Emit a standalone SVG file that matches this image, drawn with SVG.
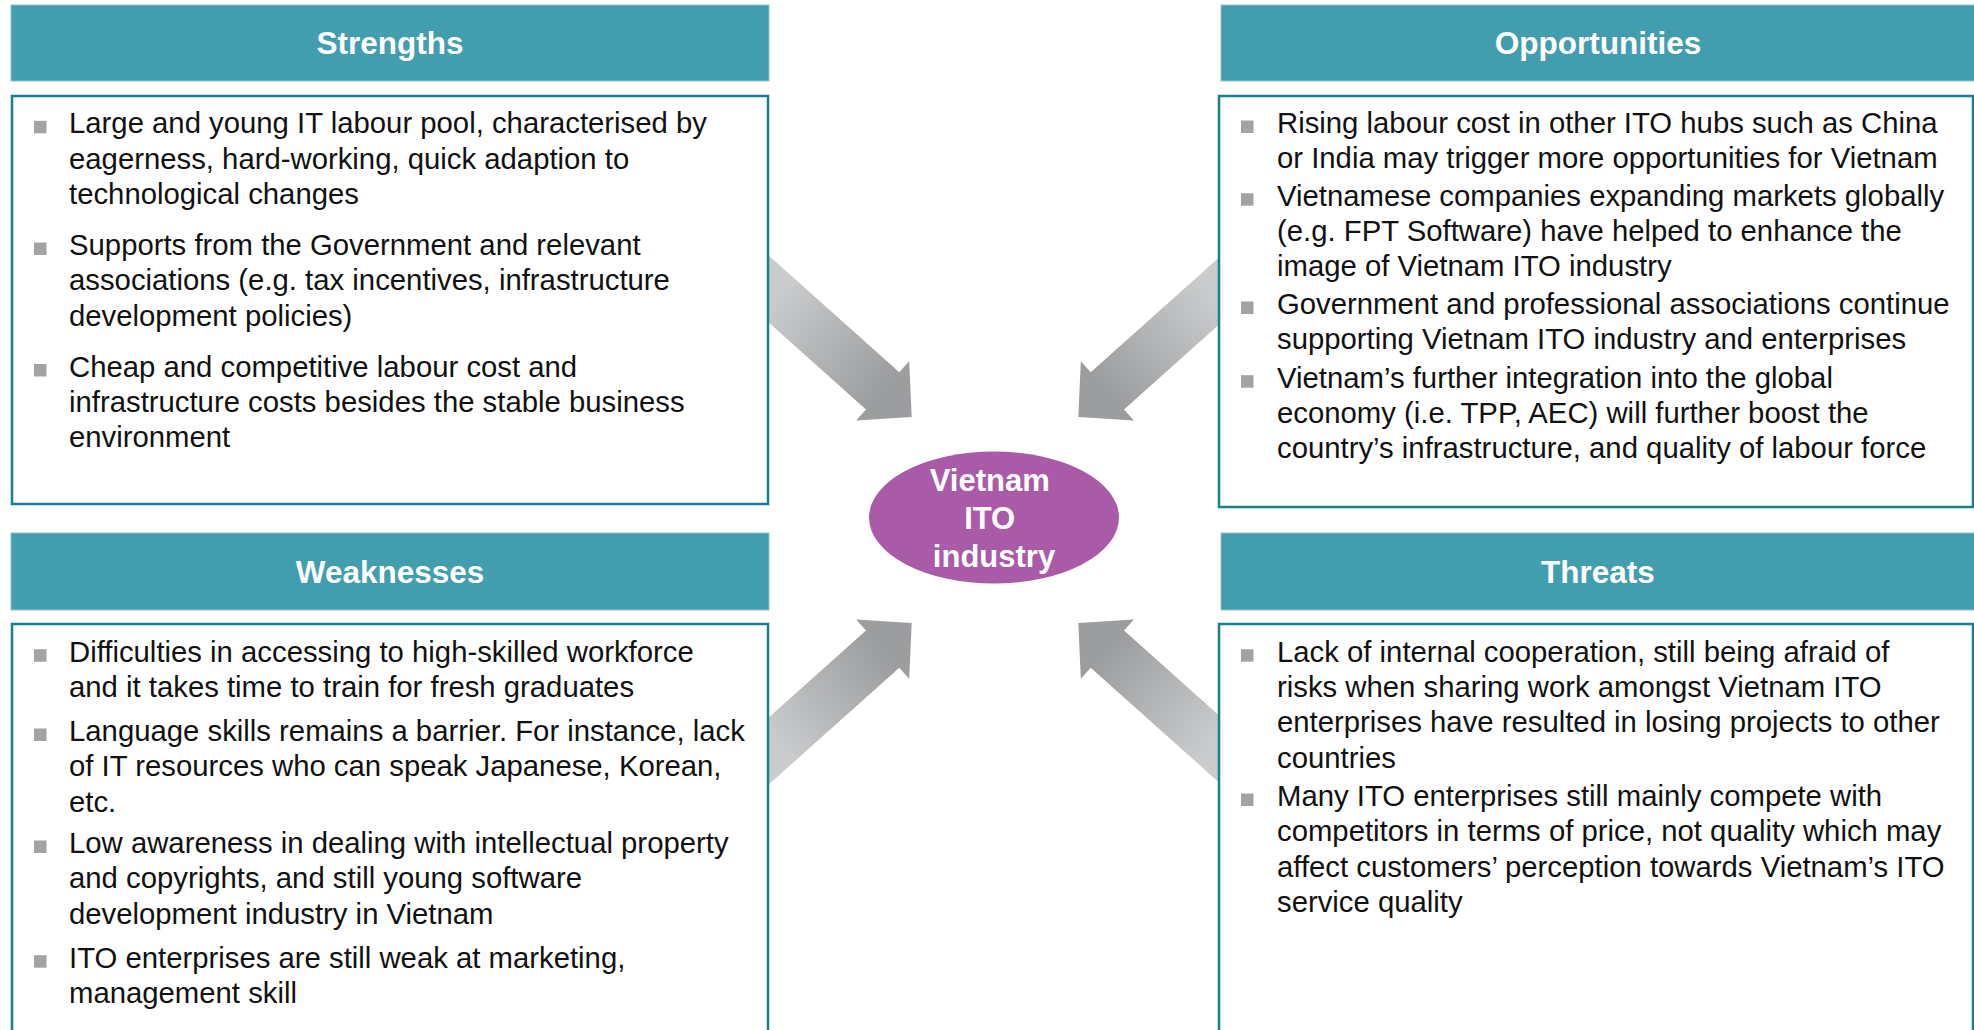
<svg xmlns="http://www.w3.org/2000/svg" width="1974" height="1030" viewBox="0 0 1974 1030">
  <style>
    .hdr { fill: #429EAE; stroke: #8EC6CF; stroke-width: 1; }
    .hdr-t { font-family: "Liberation Sans", Arial, sans-serif; font-weight: bold; font-size: 31.5px; fill: #FFFFFF; text-anchor: middle; }
    .body { fill: #FFFFFF; stroke: #15808F; stroke-width: 2.5; }
    .txt { font-family: "Liberation Sans", Arial, sans-serif; font-size: 29.3px; fill: #111111; }
    .bullet { fill: #A3A3A3; }
    .core { fill: #A95BA8; }
    .core-t { font-family: "Liberation Sans", Arial, sans-serif; font-weight: bold; font-size: 31px; fill: #FFFFFF; text-anchor: middle; }
    .arrow { fill: url(#shade); }
  </style>
  <defs>
    <!-- shading along the arrow axis (local coordinates, tip at origin) -->
    <linearGradient id="shade" gradientUnits="userSpaceOnUse" x1="-180" y1="0" x2="-40" y2="0">
      <stop offset="0" stop-color="#CACBCC"/>
      <stop offset="1" stop-color="#9C9D9F"/>
    </linearGradient>
    <polygon id="arrowShape" points="0,0 -39,-39.8 -39,-25 -260,-25 -260,25 -39,25 -39,39.8"/>
  </defs>

  <rect width="1974" height="1030" fill="#FFFFFF"/>

  <!-- block arrows pointing at the centre (drawn first, boxes cover their tails) -->
  <g id="connectors">
    <use href="#arrowShape" class="arrow" transform="translate(911.7,416.9) rotate(41.8)"/>
    <use href="#arrowShape" class="arrow" transform="translate(1078.3,416.9) rotate(138.2)"/>
    <use href="#arrowShape" class="arrow" transform="translate(911.7,623.1) rotate(-41.8)"/>
    <use href="#arrowShape" class="arrow" transform="translate(1078.3,623.1) rotate(-138.2)"/>
  </g>

  <!-- Strengths -->
  <g id="strengths">
    <rect class="hdr" x="11" y="5" width="758" height="76"/>
    <text class="hdr-t" x="390" y="54.3">Strengths</text>
    <rect class="body" x="12" y="96" width="756" height="408"/>
    <rect class="bullet" x="34" y="120.8" width="12.5" height="12.5"/>
    <rect class="bullet" x="34" y="242.5" width="12.5" height="12.5"/>
    <rect class="bullet" x="34" y="364" width="12.5" height="12.5"/>
    <text class="txt">
      <tspan x="69" y="133.3">Large and young IT labour pool, characterised by</tspan>
      <tspan x="69" y="168.6">eagerness, hard-working, quick adaption to</tspan>
      <tspan x="69" y="204">technological changes</tspan>
      <tspan x="69" y="255">Supports from the Government and relevant</tspan>
      <tspan x="69" y="290.3">associations (e.g. tax incentives, infrastructure</tspan>
      <tspan x="69" y="325.6">development policies)</tspan>
      <tspan x="69" y="376.5">Cheap and competitive labour cost and</tspan>
      <tspan x="69" y="411.8">infrastructure costs besides the stable business</tspan>
      <tspan x="69" y="447">environment</tspan>
    </text>
  </g>

  <!-- Opportunities -->
  <g id="opportunities">
    <rect class="hdr" x="1221" y="5" width="760" height="76"/>
    <text class="hdr-t" x="1598" y="54.3">Opportunities</text>
    <rect class="body" x="1219" y="96" width="754" height="411"/>
    <rect class="bullet" x="1241" y="120.5" width="12.5" height="12.5"/>
    <rect class="bullet" x="1241" y="193.2" width="12.5" height="12.5"/>
    <rect class="bullet" x="1241" y="301.5" width="12.5" height="12.5"/>
    <rect class="bullet" x="1241" y="375.2" width="12.5" height="12.5"/>
    <text class="txt">
      <tspan x="1277" y="133">Rising labour cost in other ITO hubs such as China</tspan>
      <tspan x="1277" y="168.3">or India may trigger more opportunities for Vietnam</tspan>
      <tspan x="1277" y="205.7">Vietnamese companies expanding markets globally</tspan>
      <tspan x="1277" y="241">(e.g. FPT Software) have helped to enhance the</tspan>
      <tspan x="1277" y="276.3">image of Vietnam ITO industry</tspan>
      <tspan x="1277" y="314">Government and professional associations continue</tspan>
      <tspan x="1277" y="349.3">supporting Vietnam ITO industry and enterprises</tspan>
      <tspan x="1277" y="387.7">Vietnam’s further integration into the global</tspan>
      <tspan x="1277" y="423">economy (i.e. TPP, AEC) will further boost the</tspan>
      <tspan x="1277" y="458.3">country’s infrastructure, and quality of labour force</tspan>
    </text>
  </g>

  <!-- Weaknesses -->
  <g id="weaknesses">
    <rect class="hdr" x="11" y="533" width="758" height="77"/>
    <text class="hdr-t" x="390" y="583">Weaknesses</text>
    <rect class="body" x="12" y="624" width="756" height="450"/>
    <rect class="bullet" x="34" y="649.2" width="12.5" height="12.5"/>
    <rect class="bullet" x="34" y="728.5" width="12.5" height="12.5"/>
    <rect class="bullet" x="34" y="840.5" width="12.5" height="12.5"/>
    <rect class="bullet" x="34" y="955.2" width="12.5" height="12.5"/>
    <text class="txt">
      <tspan x="69" y="661.7">Difficulties in accessing to high-skilled workforce</tspan>
      <tspan x="69" y="697">and it takes time to train for fresh graduates</tspan>
      <tspan x="69" y="741">Language skills remains a barrier. For instance, lack</tspan>
      <tspan x="69" y="776.3">of IT resources who can speak Japanese, Korean,</tspan>
      <tspan x="69" y="811.6">etc.</tspan>
      <tspan x="69" y="853">Low awareness in dealing with intellectual property</tspan>
      <tspan x="69" y="888.3">and copyrights, and still young software</tspan>
      <tspan x="69" y="923.6">development industry in Vietnam</tspan>
      <tspan x="69" y="967.7">ITO enterprises are still weak at marketing,</tspan>
      <tspan x="69" y="1003">management skill</tspan>
    </text>
  </g>

  <!-- Threats -->
  <g id="threats">
    <rect class="hdr" x="1221" y="533" width="760" height="77"/>
    <text class="hdr-t" x="1598" y="583">Threats</text>
    <rect class="body" x="1219" y="624" width="754" height="450"/>
    <rect class="bullet" x="1241" y="649.2" width="12.5" height="12.5"/>
    <rect class="bullet" x="1241" y="793.5" width="12.5" height="12.5"/>
    <text class="txt">
      <tspan x="1277" y="661.7">Lack of internal cooperation, still being afraid of</tspan>
      <tspan x="1277" y="697">risks when sharing work amongst Vietnam ITO</tspan>
      <tspan x="1277" y="732.3">enterprises have resulted in losing projects to other</tspan>
      <tspan x="1277" y="767.6">countries</tspan>
      <tspan x="1277" y="806">Many ITO enterprises still mainly compete with</tspan>
      <tspan x="1277" y="841.3">competitors in terms of price, not quality which may</tspan>
      <tspan x="1277" y="876.6">affect customers’ perception towards Vietnam’s ITO</tspan>
      <tspan x="1277" y="912">service quality</tspan>
    </text>
  </g>

  <!-- centre topic -->
  <g id="core">
    <ellipse class="core" cx="994" cy="517.5" rx="125" ry="66"/>
    <text class="core-t">
      <tspan x="994" y="490.6">Vietnam</tspan>
      <tspan x="994" y="528.8">ITO</tspan>
      <tspan x="994" y="567">industry</tspan>
    </text>
  </g>
</svg>
